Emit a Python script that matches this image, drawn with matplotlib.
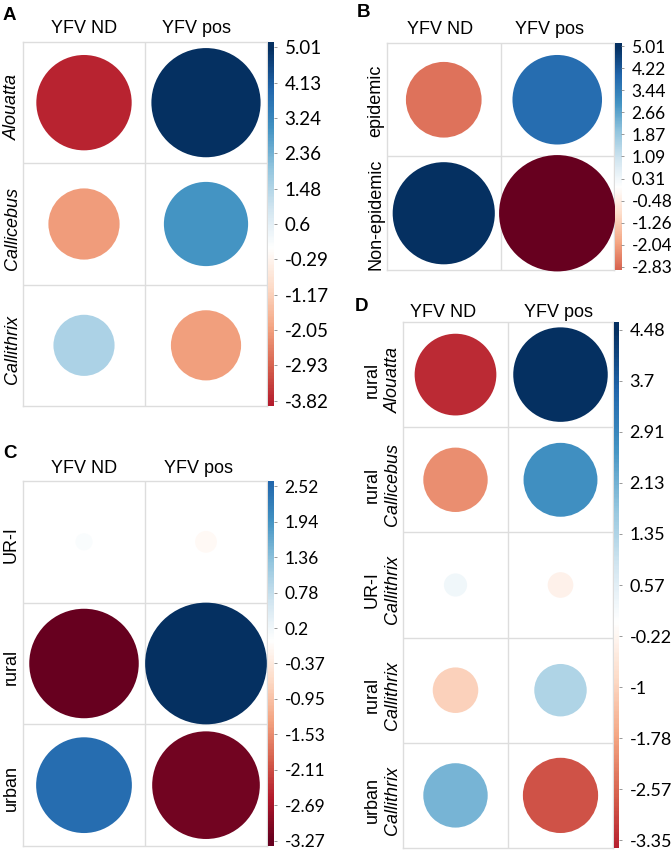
import numpy as np
import matplotlib
matplotlib.use('Agg')
import matplotlib.pyplot as plt
from matplotlib.colors import LinearSegmentedColormap, Normalize
from matplotlib.patches import Ellipse

W, H = 671, 855

col_labels = ['YFV ND', 'YFV pos']

# panel A: genus x YFV status
a_rows = ['Alouatta', 'Callicebus', 'Callithrix']
a_vals = [[-3.82, 5.01], [-2.13, 2.98], [1.57, -2.07]]
a_ticks = ['5.01', '4.13', '3.24', '2.36', '1.48', '0.6', '-0.29', '-1.17', '-2.05', '-2.93', '-3.82']

# panel B: epidemic period
b_rows = ['epidemic', 'Non-epidemic']
b_vals = [[-2.75, 3.85], [5.01, -6.5]]
b_ticks = ['5.01', '4.22', '3.44', '2.66', '1.87', '1.09', '0.31', '-0.48', '-1.26', '-2.04', '-2.83']

# panel C: area
c_rows = ['UR-I', 'rural', 'urban']
c_vals = [[0.08, -0.13], [-3.27, 4.04], [2.50, -3.16]]
c_ticks = ['2.52', '1.94', '1.36', '0.78', '0.2', '-0.37', '-0.95', '-1.53', '-2.11', '-2.69', '-3.27']

# panel D: area + genus
d_area = ['rural', 'rural', 'UR-I', 'rural', 'urban']
d_genus = ['Alouatta', 'Callicebus', 'Callithrix', 'Callithrix', 'Callithrix']
d_vals = [[-3.35, 4.48], [-2.08, 2.74], [0.27, -0.33], [-1.04, 1.38], [2.08, -2.84]]
d_ticks = ['4.48', '3.7', '2.91', '2.13', '1.35', '0.57', '-0.22', '-1', '-1.78', '-2.57', '-3.35']

# corrplot default palette
cmap = LinearSegmentedColormap.from_list('corr', [
    '#67001F', '#B2182B', '#D6604D', '#F4A582', '#FDDBC7', '#FFFFFF',
    '#D1E5F0', '#92C5DE', '#4393C3', '#2166AC', '#053061'], N=200)

LAB = 'Liberation Sans'
NUM = 'Lato'
GRID = '#DDDDDD'

fig = plt.figure(figsize=(W / 100, H / 100), dpi=100)


def fx(x):
    return x / W


def fy(y):
    return 1 - y / H


def panel(letter, letter_xy, box, vals, ticks, tick_size, col_base, col_shift, cb_w=6):
    left, top, right, bottom = box
    vals = np.array(vals)
    nrow, ncol = vals.shape
    lim = max(abs(float(ticks[0])), abs(float(ticks[-1])))
    norm = Normalize(-lim, lim)

    ax = fig.add_axes([fx(left), fy(bottom), (right - left) / W, (bottom - top) / H])
    ax.set_xlim(0, ncol)
    ax.set_ylim(nrow, 0)
    ax.set_xticks([])
    ax.set_yticks([])
    for s in ax.spines.values():
        s.set_color(GRID)
        s.set_linewidth(1)
    for i in range(1, ncol):
        ax.axvline(i, color=GRID, lw=1, zorder=1)
    for j in range(1, nrow):
        ax.axhline(j, color=GRID, lw=1, zorder=1)

    cw = (right - left) / ncol
    ch = (bottom - top) / nrow
    cell = min(cw, ch)
    for r in range(nrow):
        for c in range(ncol):
            v = vals[r, c]
            d = 0.9 * np.sqrt(abs(v) / lim) * cell
            e = Ellipse((c + 0.5, r + 0.5), d / cw, d / ch,
                        facecolor=cmap(norm(v)), edgecolor='none',
                        zorder=3, clip_on=False)
            ax.add_patch(e)

    # column labels
    for c, lab in enumerate(col_labels):
        x = left + (c + 0.5) * cw + col_shift[c]
        fig.text(fx(x), fy(col_base), lab, ha='center', va='baseline',
                 fontsize=13, family=LAB)

    fig.text(fx(letter_xy[0]), fy(letter_xy[1]), letter, ha='left', va='baseline',
             fontsize=13.5, fontweight='bold', family=LAB)

    # colour legend
    lo, hi = float(ticks[-1]), float(ticks[0])
    pad = (hi - lo) * 0.015
    cax = fig.add_axes([fx(right + 1), fy(bottom), cb_w / W, (bottom - top) / H])
    grad = np.linspace(lo - pad, hi + pad, 300).reshape(-1, 1)
    cax.imshow(grad, cmap=cmap, norm=norm, aspect='auto', origin='lower',
               extent=[0, 1, lo - pad, hi + pad])
    cax.set_ylim(lo - pad, hi + pad)
    cax.set_xticks([])
    cax.yaxis.tick_right()
    cax.set_yticks(np.linspace(hi, lo, len(ticks)))
    cax.set_yticklabels(ticks, fontsize=tick_size, family=NUM)
    cax.tick_params(axis='y', length=2.5, width=0.6, color='#888888', pad=5)
    for s in cax.spines.values():
        s.set_visible(False)
    return top, bottom, nrow


def row_text(x, y, s, italic=False):
    fig.text(fx(x), fy(y), s, rotation=90, ha='center', va='center',
             fontsize=13, family=LAB, style='italic' if italic else 'normal')


# A
top, bottom, n = panel('A', (3, 20), (23, 42, 267, 406), a_vals, a_ticks, 13.5, 33, [0, -10])
rh = (bottom - top) / n
for i, lab in enumerate(a_rows):
    row_text(12, top + (i + 0.5) * rh + 4, lab, italic=True)

# B
top, bottom, n = panel('B', (357, 17), (387, 43, 614, 270), b_vals, b_ticks, 12.5, 34, [-4, -8])
rh = (bottom - top) / n
for i, lab in enumerate(b_rows):
    row_text(376, top + (i + 0.5) * rh + 1, lab)

# C
top, bottom, n = panel('C', (3, 458), (23, 481, 267, 846), c_vals, c_ticks, 12.5, 473, [0, -8])
rh = (bottom - top) / n
for i, lab in enumerate(c_rows):
    row_text(11, top + (i + 0.5) * rh + 3, lab)

# D
top, bottom, n = panel('D', (355, 311), (403, 322, 613, 848), d_vals, d_ticks, 13, 317, [-12, -2], cb_w=5)
rh = (bottom - top) / n
for i in range(n):
    yc = top + (i + 0.5) * rh + 5
    row_text(372, yc, d_area[i])
    row_text(393, yc, d_genus[i], italic=True)

fig.savefig('out.png', dpi=100, facecolor='white')
